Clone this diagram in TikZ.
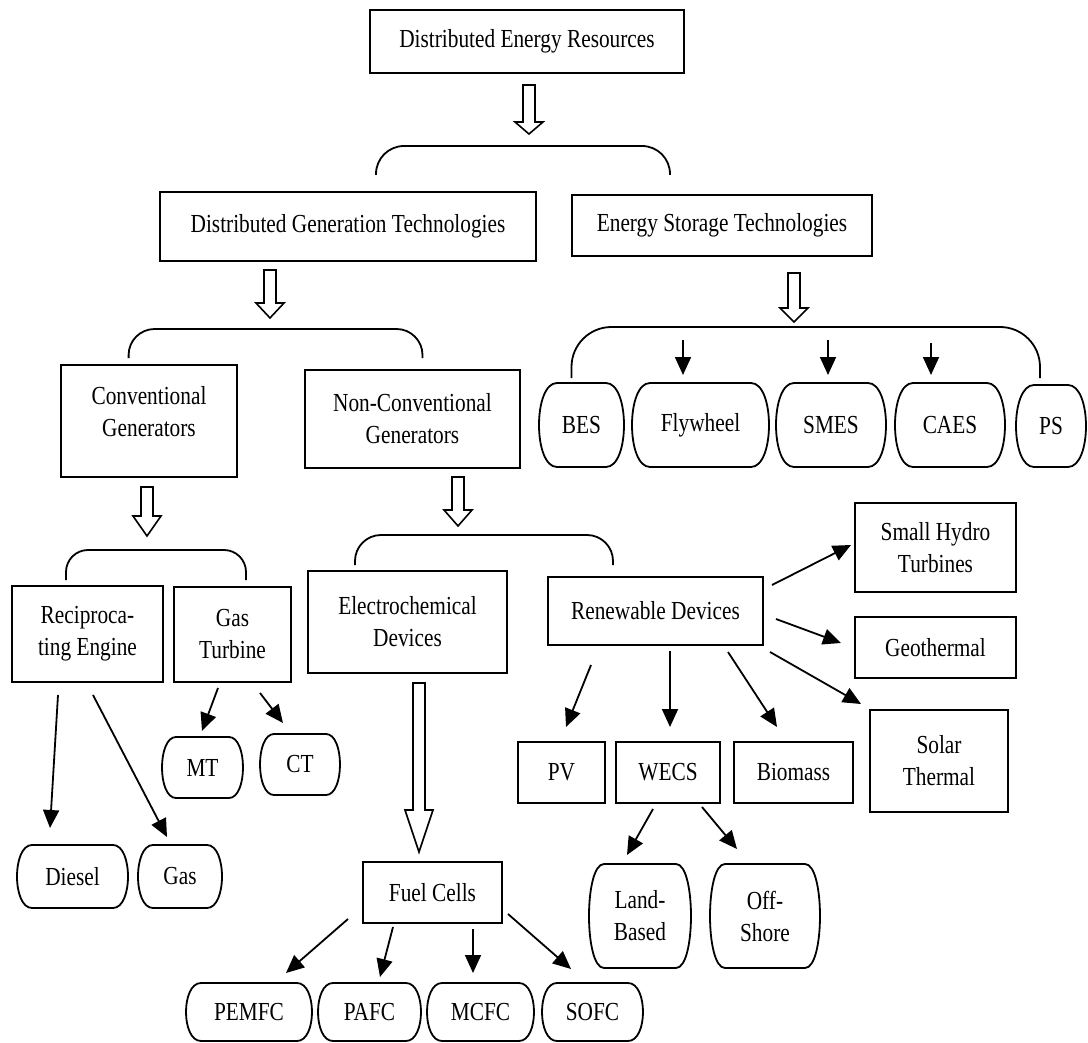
\documentclass[tikz,border=0pt]{standalone}
\usepackage{fontspec}
\setmainfont{Liberation Serif}[FakeStretch=0.82]
\usetikzlibrary{arrows.meta}
\newcommand\fsz{\fontsize{26}{32}\selectfont}
\tikzset{
  box/.style={draw, line width=1.8pt, inner sep=0pt, outer sep=0pt, align=center, font=\fsz},
  tbox/.style={inner sep=0pt, outer sep=0pt, align=center, font=\fsz},
  arr/.style={line width=1.8pt, -{Triangle[length=18pt,width=16pt]}},
  hollow/.style={line width=1.6pt, line join=miter},
  brc/.style={line width=1.8pt},
}
\newcommand\geom[4]{%
  \pgfmathsetmacro\cx{(#1+#3)/2}\pgfmathsetmacro\cy{(#2+#4)/2}%
  \pgfmathsetmacro\ww{#3-#1}\pgfmathsetmacro\hh{#4-#2}}
% box: [opts]{name}{x1}{y1}{x2}{y2}{text}
\newcommand\bx[7][]{\geom{#3}{#4}{#5}{#6}%
  \node[box,minimum width=\ww pt,minimum height=\hh pt,#1] (#2) at (\cx,\cy) {#7};}
% terminal shape: [opts]{name}{x1}{y1}{x2}{y2}{rx}{text}
\newcommand\tn[8][]{\geom{#3}{#4}{#5}{#6}%
  \node[tbox,minimum width=\ww pt,minimum height=\hh pt,#1] (#2) at (\cx,\cy) {#8};
  \draw[brc] ([xshift=#7pt]#2.north west) -- ([xshift=-#7pt]#2.north east)
    .. controls ([xshift=#7pt/3]#2.north east) and ([xshift=#7pt/3]#2.south east) .. ([xshift=-#7pt]#2.south east)
    -- ([xshift=#7pt]#2.south west)
    .. controls ([xshift=-#7pt/3]#2.south west) and ([xshift=-#7pt/3]#2.north west) .. cycle;}
% hollow arrow: {x}{ytop}{yhead}{ytip}
\newcommand\holarrow[4]{\draw[hollow] (#1-6,#2) -- (#1+6,#2) -- (#1+6,#3) -- (#1+14,#3) -- (#1,#4) -- (#1-14,#3) -- (#1-6,#3) -- cycle;}
% bracket: {x1}{x2}{ytop}{yend}{r}
\newcommand\mybrace[5]{\draw[brc, rounded corners=#5pt] (#1,#4) -- (#1,#3) -- (#2,#3) -- (#2,#4);}
\begin{document}
\begin{tikzpicture}[x=1pt,y=-1pt]
\fill[white] (0,0) rectangle (1088,1043);
\useasboundingbox (0,0) rectangle (1088,1043);

% rectangular boxes
\bx{der}{370}{10}{684}{73}{Distributed Energy Resources}
\bx{dgt}{160}{192}{536}{261}{Distributed Generation Technologies}
\bx{est}{572}{195}{872}{256}{Energy Storage Technologies}
\bx[label={[tbox,yshift=9pt]center:{Conventional\\Generators}}]{conv}{61}{365}{237}{477}{}
\bx{nconv}{305}{370}{520}{468}{Non-Conventional\\Generators}
\bx{recip}{12}{586}{163}{682}{Reciproca-\\ting Engine}
\bx{gt}{174}{587}{291}{682}{Gas\\Turbine}
\bx{elec}{308}{571}{507}{673}{Electrochemical\\Devices}
\bx{ren}{548}{577}{763}{645}{Renewable Devices}
\bx{hydro}{855}{503}{1016}{592}{Small Hydro\\Turbines}
\bx{geo}{855}{617}{1016}{678}{Geothermal}
\bx{solar}{870}{710}{1008}{812}{Solar\\Thermal}
\bx{pv}{518}{742}{605}{803}{PV}
\bx{wecs}{616}{742}{720}{803}{WECS}
\bx{bio}{734}{742}{853}{803}{Biomass}
\bx{fc}{363}{862}{502}{923}{Fuel Cells}

% terminal shapes
\tn{bes}{539}{383}{624}{467}{18}{BES}
\tn{fly}{632}{383}{769}{467}{18}{Flywheel}
\tn{smes}{776}{383}{886}{467}{18}{SMES}
\tn{caes}{895}{383}{1005}{467}{18}{CAES}
\tn{ps}{1016}{385}{1086}{467}{18}{PS}
\tn{mt}{162}{737}{243}{798}{14}{MT}
\tn{ct}{260}{734}{340}{795}{14}{CT}
\tn{diesel}{17}{845}{128}{908}{15}{Diesel}
\tn{gas}{138}{845}{222}{908}{15}{Gas}
\tn{land}{589}{864}{691}{968}{15}{Land-\\Based}
\tn{off}{710}{864}{820}{968}{15}{Off-\\Shore}
\tn{pem}{186}{983}{312}{1041}{15}{PEMFC}
\tn{pafc}{318}{983}{421}{1041}{15}{PAFC}
\tn{mcfc}{427}{983}{534}{1041}{15}{MCFC}
\tn{sofc}{542}{983}{643}{1041}{15}{SOFC}

% hollow arrows
\holarrow{529}{85}{122}{134}
\holarrow{270}{270}{303}{318}
\holarrow{794}{273}{308}{322}
\holarrow{147}{487}{516}{536}
\holarrow{458}{477}{510}{526}
\holarrow{419}{683}{810}{852}

% brackets
\mybrace{376}{670}{146}{175}{28}
\mybrace{128.6}{422.5}{329}{358}{26}
\mybrace{571.5}{1040}{327}{378}{40}
\mybrace{66}{246}{550}{580}{22}
\mybrace{355}{613}{535}{565}{26}

% storage arrows
\draw[arr] ([shift={(-17.5,-85)}]fly.center) -- ([shift={(-17.5,-50)}]fly.center);
\draw[arr] ([shift={(-3,-85)}]smes.center) -- ([shift={(-3,-50)}]smes.center);
\draw[arr] ([shift={(-19,-82)}]caes.center) -- ([shift={(-19,-50)}]caes.center);

% conventional
\draw[arr] ([shift={(-14.5,53.5)}]gt.center) -- ([shift={(-0.5,-36.5)}]mt.center);
\draw[arr] ([shift={(27.5,58.5)}]gt.center) -- ([shift={(-17,-41.5)}]ct.center);
\draw[arr] ([shift={(-29.5,61)}]recip.center) -- ([shift={(-22.5,-48.5)}]diesel.center);
\draw[arr] ([shift={(5.5,61)}]recip.center) -- ([shift={(-13,-39.5)}]gas.center);

% renewable
\draw[arr] ([shift={(116.5,-26)}]ren.center) -- ([shift={(-84.5,-2.5)}]hydro.center);
\draw[arr] ([shift={(120.5,8)}]ren.center) -- ([shift={(-94.5,-4.5)}]geo.center);
\draw[arr] ([shift={(114.5,41)}]ren.center) -- ([shift={(-78,-57)}]solar.center);
\draw[arr] ([shift={(-64.5,54)}]ren.center) -- ([shift={(4.5,-45.5)}]pv.center);
\draw[arr] ([shift={(14.5,40)}]ren.center) -- ([shift={(2,-45.5)}]wecs.center);
\draw[arr] ([shift={(72.5,41)}]ren.center) -- ([shift={(-16.5,-45.5)}]bio.center);
\draw[arr] ([shift={(-15,36.5)}]wecs.center) -- ([shift={(-13,-61)}]land.center);
\draw[arr] ([shift={(34,34.5)}]wecs.center) -- ([shift={(-28,-67)}]off.center);

% fuel cells
\draw[arr] ([shift={(-84.5,26.5)}]fc.center) -- ([shift={(37,-39)}]pem.center);
\draw[arr] ([shift={(-39.5,34.5)}]fc.center) -- ([shift={(10.5,-35)}]pafc.center);
\draw[arr] ([shift={(40.5,36.5)}]fc.center) -- ([shift={(-7.5,-39)}]mcfc.center);
\draw[arr] ([shift={(75.5,21.5)}]fc.center) -- ([shift={(-21.5,-43)}]sofc.center);
\end{tikzpicture}
\end{document}
